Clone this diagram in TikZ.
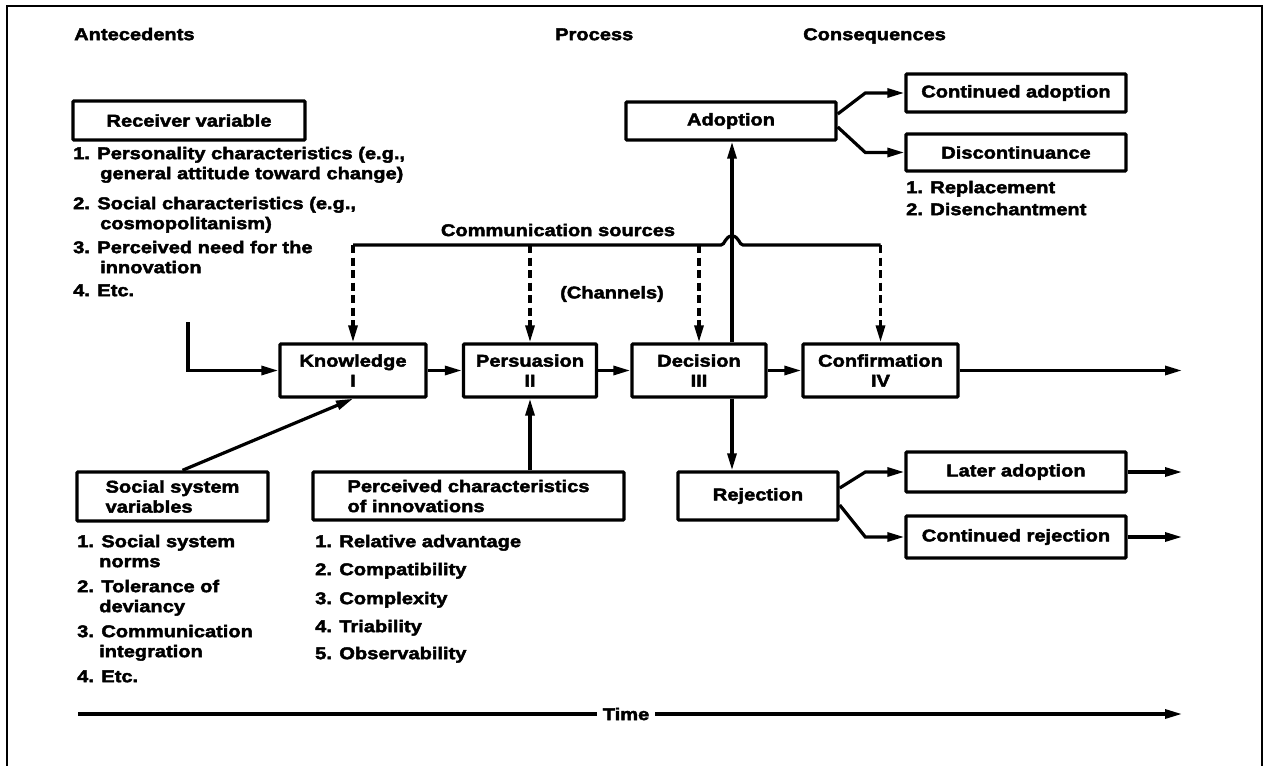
\documentclass[tikz,border=0pt]{standalone}
\usepackage{fontspec}
\newfontfamily\hv{Liberation Sans}[UprightFont={* Bold}, FakeStretch=1.18, FakeBold=2.5]
\usetikzlibrary{arrows.meta}
\begin{document}
\begin{tikzpicture}[x=1pt,y=-1pt,
  txt/.style={font=\hv\fontsize{17}{20}\selectfont, inner sep=0pt},
  lbl/.style={txt, anchor=mid west},
  box/.style={txt, draw, line width=3.4pt, rounded corners=1pt, align=center},
  plain/.style={line width=3.2pt},
  conn/.style={plain, -{Triangle[length=17pt,width=9pt]}},
  dashconn/.style={conn, dash pattern=on 8pt off 4.5pt},
]
\useasboundingbox (0,0) rectangle (1267,766);

% outer frame
\draw[line width=2.8pt] (7,766) -- (7,6) -- (1262,6) -- (1262,766);

% column headings
\node[lbl] (hAnte) at (74,38) {Antecedents};
\node[lbl] (hProc) at (555,38) {Process};
\node[lbl] (hCons) at (803,38) {Consequences};

% antecedents: receiver variables
\node[box, minimum width=232pt, minimum height=39pt] (recv) at (189,120.5) {Receiver variable};
\node[lbl] (r1a) at (73,157) {1. Personality characteristics (e.g.,};
\node[lbl] (r1b) at (100,177) {general attitude toward change)};
\node[lbl] (r2a) at (73,207) {2. Social characteristics (e.g.,};
\node[lbl] (r2b) at (100,227) {cosmopolitanism)};
\node[lbl] (r3a) at (73,251) {3. Perceived need for the};
\node[lbl] (r3b) at (100,271) {innovation};
\node[lbl] (r4) at (73,294) {4. Etc.};

% stages of the process
\node[box, minimum width=146pt, minimum height=53pt] (know) at (353,370.5) {Knowledge\\I};
\node[box, minimum width=133pt, minimum height=53pt] (pers) at (530,370.5) {Persuasion\\II};
\node[box, minimum width=134pt, minimum height=53pt] (deci) at (699,370.5) {Decision\\III};
\node[box, minimum width=155pt, minimum height=53pt] (conf) at (880.5,370.5) {Confirmation\\IV};

% consequences
\node[box, minimum width=210pt, minimum height=38pt] (adop) at (731,121) {Adoption};
\node[box, minimum width=220pt, minimum height=38pt] (cadop) at (1016,93) {Continued adoption};
\node[box, minimum width=220pt, minimum height=37pt] (disc) at (1016,152.5) {Discontinuance};
\node[lbl] (d1) at (906,191) {1. Replacement};
\node[lbl] (d2) at (906,213) {2. Disenchantment};
\node[box, minimum width=160pt, minimum height=48pt] (rej) at (758,496) {Rejection};
\node[box, minimum width=220pt, minimum height=40pt] (later) at (1016,472) {Later adoption};
\node[box, minimum width=220pt, minimum height=42pt] (crej) at (1016,537) {Continued rejection};

% social system variables
\node[box, minimum width=191pt, minimum height=49pt, align=left] (social) at (172.5,496.5) {Social system\\variables};
\node[lbl] (s1a) at (77,545) {1. Social system};
\node[lbl] (s1b) at (99,565) {norms};
\node[lbl] (s2a) at (77,590) {2. Tolerance of};
\node[lbl] (s2b) at (99,610) {deviancy};
\node[lbl] (s3a) at (77,635) {3. Communication};
\node[lbl] (s3b) at (99,655) {integration};
\node[lbl] (s4) at (77,680) {4. Etc.};

% perceived characteristics of innovations
\node[box, minimum width=311pt, minimum height=48pt, align=left] (perc) at (468.5,496) {Perceived characteristics\\of innovations};
\node[lbl] (p1) at (315,545) {1. Relative advantage};
\node[lbl] (p2) at (315,573) {2. Compatibility};
\node[lbl] (p3) at (315,602) {3. Complexity};
\node[lbl] (p4) at (315,630) {4. Triability};
\node[lbl] (p5) at (315,657) {5. Observability};

% communication sources
\node[txt] (comm) at (558,230) {Communication sources};
\node[txt] (chan) at (612,294) {(Channels)};
\coordinate (cs) at (0,245);
\draw[plain] (know.north |- cs) -- (721,245)
  .. controls (725,245) and (725,236) .. (732,236)
  .. controls (739,236) and (739,245) .. (743,245)
  -- (conf.north |- cs);
\draw[dashconn] (know.north |- cs) -- (know.north);
\draw[dashconn] (pers.north |- cs) -- (pers.north);
\draw[dashconn] (deci.north |- cs) -- (deci.north);
\draw[dashconn] (conf.north |- cs) -- (conf.north);

% flow between stages
\coordinate (rin) at (188,322);
\draw[conn] (rin) |- (know.west);
\draw[conn] (know.east) -- (pers.west);
\draw[conn] (pers.east) -- (deci.west);
\draw[conn] (deci.east) -- (conf.west);
\coordinate (confout) at (1182,370.5);
\draw[conn] (conf.east) -- (confout);

% influences from below
\draw[conn] ([xshift=10pt]social.north) -- (know.south);
\draw[conn] (pers.south |- perc.north) -- (pers.south);

% decision outcomes
\coordinate (dv) at (732,0);
\draw[conn] (dv |- deci.north) -- (dv |- adop.south);
\draw[conn] (dv |- deci.south) -- (dv |- rej.north);

% branches after adoption and rejection
\draw[conn] ([yshift=7pt]adop.east) -- ([xshift=-39pt]cadop.west) -- (cadop.west);
\draw[conn] ([yshift=-6pt]adop.east) -- ([xshift=-39pt]disc.west) -- (disc.west);
\draw[conn] ([yshift=8pt]rej.east) -- ([xshift=-39pt]later.west) -- (later.west);
\draw[conn] ([yshift=-9pt]rej.east) -- ([xshift=-39pt]crej.west) -- (crej.west);
\coordinate (laterout) at (1182,472);
\coordinate (crejout) at (1182,537);
\draw[conn] (later.east) -- (laterout);
\draw[conn] (crej.east) -- (crejout);

% time axis
\node[txt] (time) at (626,714) {Time};
\coordinate (t0) at (78,714);
\coordinate (t1) at (1182,714);
\draw[plain] (t0) -- ([xshift=-6pt]time.west);
\draw[conn] ([xshift=6pt]time.east) -- (t1);
\end{tikzpicture}
\end{document}
